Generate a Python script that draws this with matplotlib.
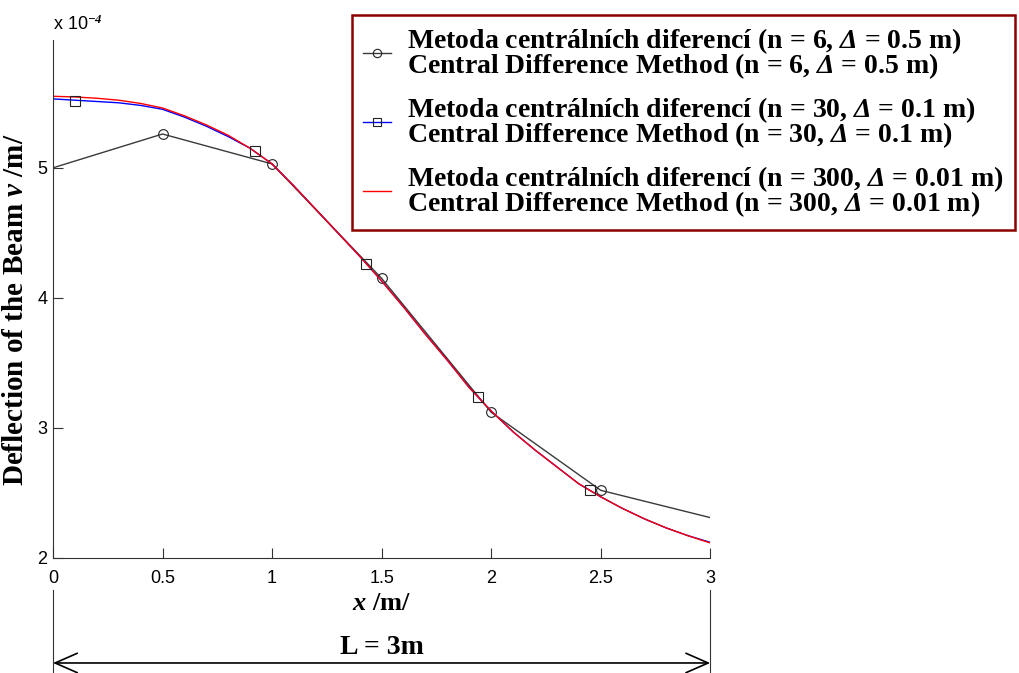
import matplotlib
matplotlib.use("Agg")
import matplotlib.pyplot as plt
from matplotlib.lines import Line2D

# values in units of 1e-4 m
x_n6 = [0, 0.5, 1.0, 1.5, 2.0, 2.5, 3.0]
v_n6 = [5.00, 5.26, 5.03, 4.15, 3.12, 2.52, 2.31]

x_fine = [0.0, 0.1, 0.2, 0.3, 0.4, 0.5, 0.6, 0.7, 0.8, 0.9, 1.0,
          1.1, 1.2, 1.3, 1.4, 1.5, 1.6, 1.7, 1.8, 1.9, 2.0,
          2.1, 2.2, 2.3, 2.4, 2.5, 2.6, 2.7, 2.8, 2.9, 3.0]
v_n30 = [5.53, 5.52, 5.51, 5.50, 5.48, 5.45, 5.39, 5.32, 5.24, 5.15, 5.03,
         4.86, 4.68, 4.50, 4.32, 4.13, 3.93, 3.72, 3.52, 3.31, 3.13,
         2.97, 2.83, 2.70, 2.57, 2.47, 2.38, 2.30, 2.23, 2.17, 2.12]
v_n300 = [5.55, 5.545, 5.535, 5.52, 5.495, 5.46, 5.40, 5.33, 5.25, 5.15, 5.03,
          4.86, 4.68, 4.50, 4.32, 4.13, 3.93, 3.72, 3.52, 3.31, 3.13,
          2.97, 2.83, 2.70, 2.57, 2.47, 2.38, 2.30, 2.23, 2.17, 2.115]

# square markers drawn on the n=30 curve
x_sq = [0.1, 0.92, 1.43, 1.94, 2.45]
v_sq = [5.515, 5.13, 4.26, 3.24, 2.52]

beam_length = 3

labels = [
    "Metoda centrálních diferencí (n = 6, $\\Delta$ = 0.5 m)\nCentral Difference Method (n = 6, $\\Delta$ = 0.5 m)",
    "Metoda centrálních diferencí (n = 30, $\\Delta$ = 0.1 m)\nCentral Difference Method (n = 30, $\\Delta$ = 0.1 m)",
    "Metoda centrálních diferencí (n = 300, $\\Delta$ = 0.01 m)\nCentral Difference Method (n = 300, $\\Delta$ = 0.01 m)",
]

plt.rcParams['mathtext.fontset'] = 'custom'
plt.rcParams['mathtext.rm'] = 'Liberation Serif:italic:bold'
plt.rcParams['mathtext.it'] = 'Liberation Serif:italic:bold'
plt.rcParams['mathtext.bf'] = 'Liberation Serif:italic:bold'

fig = plt.figure(figsize=(10.19, 6.73), dpi=100)
ax = fig.add_axes([0.052, 0.171, 0.645, 0.769])

ax.plot(x_n6, v_n6, color='#3a3a3a', lw=1.0, marker='o', mfc='none', mec='#222222',
        ms=7, mew=0.8, markevery=[1, 2, 3, 4, 5])
ax.plot(x_fine, v_n30, color='blue', lw=1.0)
ax.plot(x_fine, v_n300, color='red', lw=1.0)
ax.plot(x_sq, v_sq, ls='none', marker='s', mfc='none', mec='#222222', ms=7, mew=0.8)

ax.set_xlim(0, 3)
ax.set_ylim(2, 5.98)
ax.set_xticks([0, 0.5, 1, 1.5, 2, 2.5, 3])
ax.set_xticklabels(['0', '0.5', '1', '1.5', '2', '2.5', '3'])
ax.set_yticks([2, 3, 4, 5])
for s in ['top', 'right']:
    ax.spines[s].set_visible(False)
for s in ['left', 'bottom']:
    ax.spines[s].set_color('#333333')
ax.tick_params(direction='in', length=7, color='#333333', labelsize=13,
               labelfontfamily='Liberation Sans')
ax.tick_params(axis='x', pad=9)
ax.tick_params(axis='y', pad=4)

ax.text(0.0, 1.021, "x 10$^{-4}$", transform=ax.transAxes, fontsize=13,
        family='Liberation Sans', ha='left', va='baseline')

ax.set_xlabel("$x$ /m/", family='Liberation Serif', weight='bold', fontsize=19, labelpad=3)
ax.set_ylabel("Deflection of the Beam $v$ /m/", family='Liberation Serif', weight='bold',
              fontsize=21)
ax.yaxis.set_label_coords(-0.036, 0.48)

handles = [
    Line2D([], [], color='#3a3a3a', lw=1.0, marker='o', mfc='none', mec='#222222', ms=6, mew=0.8),
    Line2D([], [], color='blue', lw=1.0, marker='s', mfc='none', mec='#222222', ms=6, mew=0.8),
    Line2D([], [], color='red', lw=1.0),
]
leg = fig.legend(handles, labels, loc='upper right', bbox_to_anchor=(0.996, 0.978),
                 borderaxespad=0,
                 prop={'family': 'Liberation Serif', 'weight': 'bold', 'size': 20},
                 handlelength=1.0, handletextpad=0.6, labelspacing=0.5,
                 borderpad=0.4, fancybox=False, framealpha=1)
leg.get_frame().set_edgecolor('#8b0000')
leg.get_frame().set_linewidth(1.8)
for t in leg.get_texts():
    t.set_linespacing(0.8)

# beam length dimension line
trans = ax.get_xaxis_transform()
for xe in [0, beam_length]:
    ax.plot([xe, xe], [-0.062, -0.23], transform=trans, color='#333333', lw=0.8, clip_on=False)
ax.annotate('', xy=(beam_length, -0.203), xytext=(0, -0.203), xycoords=trans, textcoords=trans,
            annotation_clip=False,
            arrowprops=dict(arrowstyle='<->,head_length=0.8,head_width=0.35', color='black',
                            lw=1.2, mutation_scale=20, shrinkA=0, shrinkB=0))
ax.text(beam_length / 2, -0.173, "L = 3m", transform=trans, ha='center', va='center',
        family='Liberation Serif', weight='bold', fontsize=20)

fig.savefig('out.png', dpi=100)
